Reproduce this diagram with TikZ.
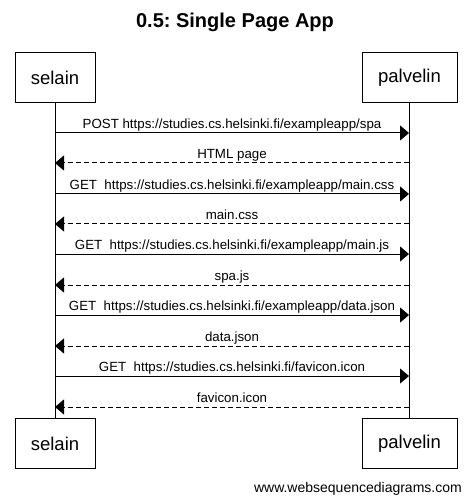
\documentclass[tikz,border=0pt]{standalone}
\usepackage{fontspec}
\setmainfont{Liberation Sans}
\usetikzlibrary{arrows.meta}
\frenchspacing

\begin{document}
\begin{tikzpicture}[x=1pt,y=-1pt,
  actor/.style={draw,line width=1pt,minimum height=50pt,inner sep=0pt,
    font=\fontsize{18.5}{20}\selectfont},
  msg/.style={midway,anchor=base,yshift=4.5pt,inner sep=0pt,
    font=\fontsize{13.3}{14}\selectfont},
  call/.style={-{Triangle[length=9pt,width=15pt]},line width=1pt},
  reply/.style={call,dash pattern=on 5pt off 3pt}]
%
\useasboundingbox (0,0) rectangle (471,502);
%
\node[font=\bfseries\fontsize{20}{22}\selectfont] (title) at (235,22) {0.5: Single Page App};
%
\node[actor,minimum width=80pt] (sel) at (55,78) {selain};
\node[actor,minimum width=95pt] (pal) at (409.5,78) {palvelin};
\node[actor,minimum width=80pt] (selB) at (55,443.5) {selain};
\node[actor,minimum width=95pt] (palB) at (409.5,443.5) {palvelin};
%
\draw[line width=1pt] (sel.south) -- (selB.north);
\draw[line width=1pt] ([xshift=-0.5pt]pal.south) -- ([xshift=-0.5pt]palB.north);
%
\foreach \i/\y in {1/133,2/163,3/194,4/224,5/254,6/285,7/315,8/346,9/376,10/407}{
  \coordinate (s\i) at (55,\y);
  \coordinate (p\i) at (409,\y);
}
%
\draw[call] (s1) -- node[msg] {POST https://studies.cs.helsinki.fi/exampleapp/spa} (p1);
\draw[reply] (p2) -- node[msg] {HTML page} (s2);
\draw[call] (s3) -- node[msg] {GET\ \ https://studies.cs.helsinki.fi/exampleapp/main.css} (p3);
\draw[reply] (p4) -- node[msg] {main.css} (s4);
\draw[call] (s5) -- node[msg] {GET\ \ https://studies.cs.helsinki.fi/exampleapp/main.js} (p5);
\draw[reply] (p6) -- node[msg] {spa.js} (s6);
\draw[call] (s7) -- node[msg] {GET\ \ https://studies.cs.helsinki.fi/exampleapp/data.json} (p7);
\draw[reply] (p8) -- node[msg] {data.json} (s8);
\draw[call] (s9) -- node[msg] {GET\ \ https://studies.cs.helsinki.fi/favicon.icon} (p9);
\draw[reply] (p10) -- node[msg] {favicon.icon} (s10);
%
\node[anchor=base east,inner sep=0pt,font=\fontsize{14}{16}\selectfont] (footer) at (462,492) {www.websequencediagrams.com};
%
\end{tikzpicture}
\end{document}
